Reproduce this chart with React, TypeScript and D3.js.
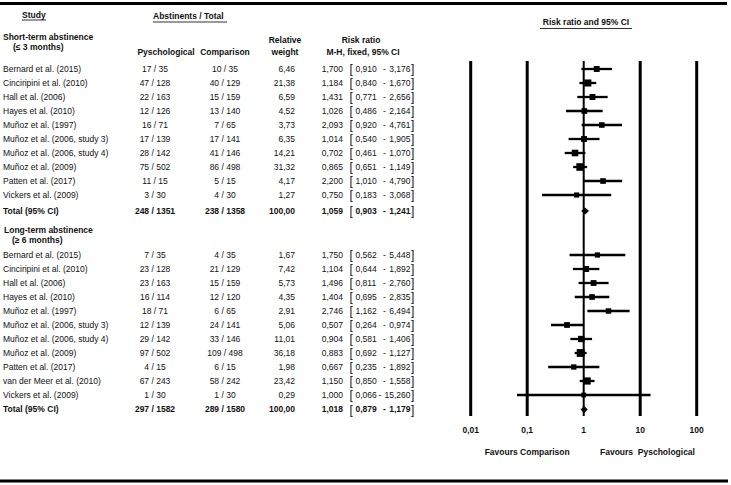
import React from "react";
import * as d3 from "d3";

// ---------- data ----------
const shortStudies = [
  "Bernard et al. (2015)",
  "Cinciripini et al. (2010)",
  "Hall et al. (2006)",
  "Hayes et al.  (2010)",
  "Muñoz et al. (1997)",
  "Muñoz et al. (2006, study 3)",
  "Muñoz et al. (2006, study 4)",
  "Muñoz et al. (2009)",
  "Patten et al. (2017)",
  "Vickers et al. (2009)",
];
const shortPsych = ["17 / 35", "47 / 128", "22 / 163", "12 / 126", "16 / 71", "17 / 139", "28 / 142", "75 / 502", "11 / 15", "3 / 30"];
const shortComp = ["10 / 35", "40 / 129", "15 / 159", "13 / 140", "7 / 65", "17 / 141", "41 / 146", "86 / 498", "5 / 15", "4 / 30"];
const shortWeight = [6.46, 21.38, 6.59, 4.52, 3.73, 6.35, 14.21, 31.32, 4.17, 1.27];
const shortRR = [1.7, 1.184, 1.431, 1.026, 2.093, 1.014, 0.702, 0.865, 2.2, 0.75];
const shortLo = [0.91, 0.84, 0.771, 0.486, 0.92, 0.54, 0.461, 0.651, 1.01, 0.183];
const shortHi = [3.176, 1.67, 2.656, 2.164, 4.761, 1.905, 1.07, 1.149, 4.79, 3.068];
const shortTotal = { psych: "248 / 1351", comp: "238 / 1358", weight: 100, rr: 1.059, lo: 0.903, hi: 1.241 };

const longStudies = [
  "Bernard et al. (2015)",
  "Cinciripini et al. (2010)",
  "Hall et al. (2006)",
  "Hayes et al.  (2010)",
  "Muñoz et al. (1997)",
  "Muñoz et al. (2006, study 3)",
  "Muñoz et al. (2006, study 4)",
  "Muñoz et al. (2009)",
  "Patten et al. (2017)",
  "van der Meer et al.  (2010)",
  "Vickers et al. (2009)",
];
const longPsych = ["7 / 35", "23 / 128", "23 / 163", "16 / 114", "18 / 71", "12 / 139", "29 / 142", "97 / 502", "4 / 15", "67 / 243", "1 / 30"];
const longComp = ["4 / 35", "21 / 129", "15 / 159", "12 / 120", "6 / 65", "24 / 141", "33 / 146", "109 / 498", "6 / 15", "58 / 242", "1 / 30"];
const longWeight = [1.67, 7.42, 5.73, 4.35, 2.91, 5.06, 11.01, 36.18, 1.98, 23.42, 0.29];
const longRR = [1.75, 1.104, 1.496, 1.404, 2.746, 0.507, 0.904, 0.883, 0.667, 1.15, 1.0];
const longLo = [0.562, 0.644, 0.811, 0.695, 1.162, 0.264, 0.581, 0.692, 0.235, 0.85, 0.066];
const longHi = [5.448, 1.892, 2.76, 2.835, 6.494, 0.974, 1.406, 1.127, 1.892, 1.558, 15.26];
const longTotal = { psych: "297 / 1582", comp: "289 / 1580", weight: 100, rr: 1.018, lo: 0.879, hi: 1.179 };

const tickValues = [0.01, 0.1, 1, 10, 100];
const tickLabels = ["0,01", "0,1", "1", "10", "100"];

// ---------- helpers ----------
const FONT = "'Liberation Sans', Arial, sans-serif";
const FS = 8.5;
const fmt3 = (v: number) => d3.format(".3f")(v).replace(".", ",");
const fmt2 = (v: number) => d3.format(".2f")(v).replace(".", ",");

const x = d3.scaleLog().domain([0.01, 100]).range([470.7, 696.7]);
const sz = d3.scaleSqrt().domain([0, 40]).range([4.5, 8]);
const yShort = d3.scaleLinear().domain([0, 1]).range([69, 83]);
const yLong = d3.scaleLinear().domain([0, 1]).range([255, 269]);
const yShortTotal = 211;
const yLongTotal = 409.5;

type RowProps = {
  y: number;
  name: string;
  psych: string;
  comp: string;
  w: number;
  rr: number;
  lo: number;
  hi: number;
  total?: boolean;
};

function Row({ y, name, psych, comp, w, rr, lo, hi, total }: RowProps) {
  const fw = total ? "bold" : "normal";
  const t = { fontFamily: FONT, fontSize: FS, fontWeight: fw as any, fill: "#111" };
  const s = sz(w);
  const dashX = hi >= 10 ? 380 : 384.5;
  return (
    <g>
      <text x={3} y={y} dy="0.35em" style={t}>{name}</text>
      <text x={155} y={y} dy="0.35em" textAnchor="middle" style={t}>{psych}</text>
      <text x={225} y={y} dy="0.35em" textAnchor="middle" style={t}>{comp}</text>
      <text x={295} y={y} dy="0.35em" textAnchor="end" style={t}>{fmt2(w)}</text>
      <text x={343} y={y} dy="0.35em" textAnchor="end" style={t}>{fmt3(rr)}</text>
      <text x={349.5} y={y} dy="0.36em" style={{ ...t, fontSize: 12, fontWeight: "normal" }}>[</text>
      <text x={355.5} y={y} dy="0.35em" style={t}>{fmt3(lo)}</text>
      <text x={dashX} y={y} dy="0.35em" textAnchor="middle" style={t}>-</text>
      <text x={410.5} y={y} dy="0.35em" textAnchor="end" style={t}>{fmt3(hi)}</text>
      <text x={411} y={y} dy="0.36em" style={{ ...t, fontSize: 12, fontWeight: "normal" }}>]</text>
      {total ? (
        <polygon
          points={[
            [x(lo), y],
            [x(rr), y - 3.5],
            [x(hi), y],
            [x(rr), y + 3.5],
          ]
            .map((p) => p.join(","))
            .join(" ")}
          fill="#000"
        />
      ) : (
        <g>
          <line x1={x(lo)} x2={x(hi)} y1={y} y2={y} stroke="#000" strokeWidth={2.3} />
          <rect x={x(rr) - s / 2} y={y - s / 2} width={s} height={s} fill="#000" />
        </g>
      )}
    </g>
  );
}

export default function App() {
  const b = { fontFamily: FONT, fontSize: FS, fontWeight: "bold" as any, fill: "#111" };
  return (
    <svg
      width={731}
      height={485}
      style={{ position: "absolute", left: 0, top: 0, background: "#fff" }}
    >
      <rect x={0} y={0} width={731} height={485} fill="#fff" />
      {/* borders */}
      <line x1={0} x2={727} y1={3.5} y2={3.5} stroke="#000" strokeWidth={3} />
      <line x1={0} x2={728} y1={481} y2={481} stroke="#000" strokeWidth={3} />

      {/* headers */}
      <text x={22} y={15} dy="0.35em" style={b}>Study</text>
      <line x1={22} x2={46} y1={20} y2={20} stroke="#000" strokeWidth={0.8} />
      <text x={153} y={16} dy="0.35em" style={b}>Abstinents / Total</text>
      <line x1={153} x2={227} y1={22} y2={22} stroke="#000" strokeWidth={0.8} />
      <text x={3} y={37} dy="0.35em" style={b}>Short-term abstinence</text>
      <text x={13} y={47} dy="0.35em" style={b}>(≤ 3 months)</text>
      <text x={166} y={52} dy="0.35em" textAnchor="middle" style={b}>Pyschological</text>
      <text x={225} y={52} dy="0.35em" textAnchor="middle" style={b}>Comparison</text>
      <text x={285} y={40} dy="0.35em" textAnchor="middle" style={b}>Relative</text>
      <text x={285} y={52} dy="0.35em" textAnchor="middle" style={b}>weight</text>
      <text x={361} y={40} dy="0.35em" textAnchor="middle" style={b}>Risk  ratio</text>
      <text x={363} y={52} dy="0.35em" textAnchor="middle" style={b}>M-H, fixed, 95% CI</text>
      <text x={586} y={22} dy="0.35em" textAnchor="middle" style={b}>Risk ratio and 95% CI</text>
      <line x1={540} x2={632} y1={28.5} y2={28.5} stroke="#000" strokeWidth={0.8} />

      {/* plot reference lines */}
      {tickValues.map((v) => (
        <line
          key={"v" + v}
          x1={x(v)}
          x2={x(v)}
          y1={61}
          y2={416}
          stroke="#000"
          strokeWidth={v === 1 ? 2 : 3}
        />
      ))}
      {tickValues.map((v, i) => (
        <text key={"t" + v} x={x(v)} y={430} dy="0.35em" textAnchor="middle" style={b}>
          {tickLabels[i]}
        </text>
      ))}
      <text x={x(0.1)} y={452} dy="0.35em" textAnchor="middle" style={b}>Favours Comparison</text>
      <text x={600} y={452} dy="0.35em" style={{ ...b, whiteSpace: "pre" }}>Favours  Pyschological</text>

      {/* short-term */}
      {shortStudies.map((n, i) => (
        <Row
          key={"s" + i}
          y={yShort(i)}
          name={n}
          psych={shortPsych[i]}
          comp={shortComp[i]}
          w={shortWeight[i]}
          rr={shortRR[i]}
          lo={shortLo[i]}
          hi={shortHi[i]}
        />
      ))}
      <Row
        y={yShortTotal}
        name="Total (95% CI)"
        psych={shortTotal.psych}
        comp={shortTotal.comp}
        w={shortTotal.weight}
        rr={shortTotal.rr}
        lo={shortTotal.lo}
        hi={shortTotal.hi}
        total
      />

      {/* long-term */}
      <text x={4} y={230} dy="0.35em" style={b}>Long-term abstinence</text>
      <text x={12} y={240.5} dy="0.35em" style={b}>(≥ 6 months)</text>
      {longStudies.map((n, i) => (
        <Row
          key={"l" + i}
          y={yLong(i)}
          name={n}
          psych={longPsych[i]}
          comp={longComp[i]}
          w={longWeight[i]}
          rr={longRR[i]}
          lo={longLo[i]}
          hi={longHi[i]}
        />
      ))}
      <Row
        y={yLongTotal}
        name="Total (95% CI)"
        psych={longTotal.psych}
        comp={longTotal.comp}
        w={longTotal.weight}
        rr={longTotal.rr}
        lo={longTotal.lo}
        hi={longTotal.hi}
        total
      />
    </svg>
  );
}
